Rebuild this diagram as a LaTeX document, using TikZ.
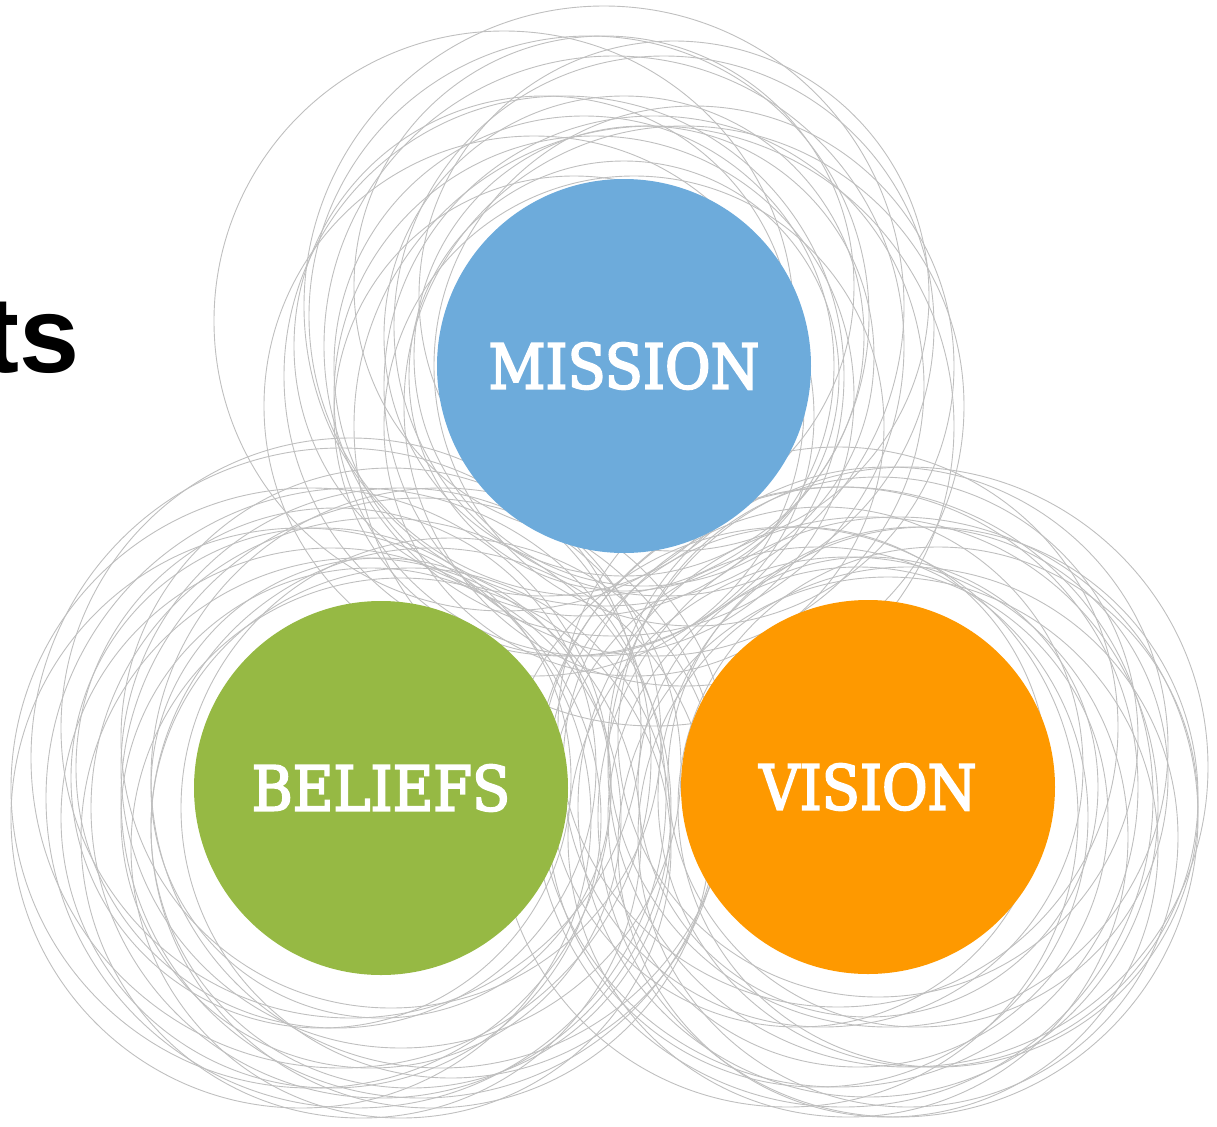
\documentclass[tikz,border=0pt]{standalone}
\usepackage{fontspec}
\setmainfont{DejaVu Serif Condensed}
\newfontfamily\labelfont[FakeBold=3]{DejaVu Serif Condensed}
\newfontfamily\headfont{Liberation Sans}
\definecolor{missionblue}{HTML}{6DABDB}
\definecolor{beliefgreen}{HTML}{96B944}
\definecolor{visionorange}{HTML}{FE9900}
\tikzset{
  ring/.style={draw=black!25, line width=0.45pt, fill=none},
  bigdisc/.style={circle, minimum size=187pt, inner sep=0pt, text=white,
    font=\labelfont\fontsize{31}{31}\selectfont},
}
\begin{document}
\begin{tikzpicture}[x=0.5pt,y=-0.5pt]
\useasboundingbox (0,0) rectangle (1217,1126);
\clip (0,0) rectangle (1217,1126);
% mission rings
\foreach \dx/\dy/\r in {-20/-60/300,-120/-45/290,-10/-20/290,-40/0/250,30/20/270,0/-30/240,-60/10/280,20/-10/230,60/40/280,-30/30/260,10/60/250,-80/-20/250,40/-40/270,-50/50/240,70/0/260,0/10/215,-20/-80/250,30/60/300,-90/40/270,50/-70/255,-35/-50/280}
  \draw[ring] (624+\dx,366+\dy) circle[radius=\r];
% beliefs rings
\foreach \dx/\dy/\r in {-70/0/300,-40/-30/310,0/20/290,20/-20/280,-50/30/270,40/10/300,-20/50/280,10/-50/270,-60/-10/250,30/40/260,-30/-60/290,60/-10/290,0/0/230,-80/30/290,50/40/280,-10/30/250,20/60/270,-45/-20/260,70/20/270,-25/10/310}
  \draw[ring] (381+\dx,788+\dy) circle[radius=\r];
% vision rings
\foreach \dx/\dy/\r in {40/-20/300,-30/0/300,0/20/290,20/-40/280,-50/30/270,60/10/270,-20/50/280,10/-50/260,-70/-10/250,30/30/300,-30/-60/280,50/-10/250,0/0/230,-80/30/290,40/50/270,-10/30/250,20/60/270,-45/-20/260,70/20/260,-25/10/310}
  \draw[ring] (868+\dx,787+\dy) circle[radius=\r];
% discs
\node[bigdisc, fill=missionblue] (mission) at (624,366) {MISSION};
\node[bigdisc, fill=beliefgreen] (beliefs) at (381,788) {BELIEFS};
\node[bigdisc, fill=visionorange] (vision) at (868,787) {VISION};
% clipped title fragment
\node[anchor=base east, inner sep=0pt, font=\headfont\bfseries\fontsize{54}{54}\selectfont] (title) at (80,372) {ts};
\end{tikzpicture}
\end{document}
